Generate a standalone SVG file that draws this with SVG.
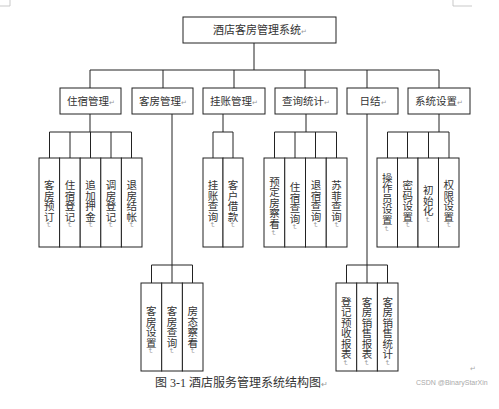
<svg xmlns="http://www.w3.org/2000/svg" width="499" height="409" viewBox="0 0 499 409">
<style>
.box{fill:#fff;stroke:#222;stroke-width:1}
.ln{fill:none;stroke:#222;stroke-width:1}
.t{font-family:"Noto Sans CJK SC","Liberation Serif",sans-serif;font-size:10.5px;fill:#333;text-anchor:middle}
.v{writing-mode:vertical-rl}
.p{font-size:7px;fill:#999}
.mark{fill:none;stroke:#bbb;stroke-width:0.8}
</style>
<rect width="499" height="409" fill="#fff"/>
<path class="mark" d="M10,0V6H0M453,0V6H472"/>
<g id="connectors">
<path class="ln" d="M254,43V70M90,70H439M90,70V88M163,70V88M234,70V88M305,70V88M367,70V88M439,70V88"/>
<path class="ln" d="M90,114V132M49.5,132H131.5M49.5,132V158M70,132V158M90.5,132V158M111,132V158M131.5,132V158"/>
<path class="ln" d="M172,114V265M151.5,265H192.5M151.5,265V283M172,265V283M192.5,265V283"/>
<path class="ln" d="M223,114V132M213,132H233M213,132V158M233,132V158"/>
<path class="ln" d="M306,114V132M274.5,132H336.5M274.5,132V158M295,132V158M315.5,132V158M336.5,132V158"/>
<path class="ln" d="M367,114V265M346.5,265H387.5M346.5,265V283M367,265V283M387.5,265V283"/>
<path class="ln" d="M439,114V132M387.5,132H449M387.5,132V158M407.5,132V158M428.5,132V158M449,132V158"/>
</g>
<g id="root"><rect class="box" x="183" y="17" width="153" height="26"/><text class="t" x="260" y="34" style="font-size:11px">酒店客房管理系统<tspan class="p">↵</tspan></text></g>
<g id="m1"><rect class="box" x="60" y="88" width="61" height="26"/><text class="t" x="91" y="105">住宿管理<tspan class="p">↵</tspan></text></g>
<g id="m2"><rect class="box" x="132" y="88" width="61" height="26"/><text class="t" x="163" y="105">客房管理<tspan class="p">↵</tspan></text></g>
<g id="m3"><rect class="box" x="203" y="88" width="62" height="26"/><text class="t" x="234" y="105">挂账管理<tspan class="p">↵</tspan></text></g>
<g id="m4"><rect class="box" x="275" y="88" width="62" height="26"/><text class="t" x="306" y="105">查询统计<tspan class="p">↵</tspan></text></g>
<g id="m5"><rect class="box" x="347" y="88" width="51" height="26"/><text class="t" x="373" y="105">日结<tspan class="p">↵</tspan></text></g>
<g id="m6"><rect class="box" x="408" y="88" width="62" height="26"/><text class="t" x="439" y="105">系统设置<tspan class="p">↵</tspan></text></g>

<g id="a1"><rect class="box" x="39" y="158" width="20.6" height="89"/><text class="t v" x="49.3" y="204">客房预订<tspan class="p">↵</tspan></text></g>
<g id="a2"><rect class="box" x="59.6" y="158" width="20.6" height="89"/><text class="t v" x="69.9" y="204">住宿登记<tspan class="p">↵</tspan></text></g>
<g id="a3"><rect class="box" x="80.2" y="158" width="20.6" height="89"/><text class="t v" x="90.5" y="204">追加押金<tspan class="p">↵</tspan></text></g>
<g id="a4"><rect class="box" x="100.8" y="158" width="20.6" height="89"/><text class="t v" x="111.1" y="204">调房登记<tspan class="p">↵</tspan></text></g>
<g id="a5"><rect class="box" x="121.4" y="158" width="20.6" height="89"/><text class="t v" x="131.7" y="204">退房结帐<tspan class="p">↵</tspan></text></g>

<g id="b1"><rect class="box" x="141" y="283" width="20.7" height="88"/><text class="t v" x="151.3" y="330">客房设置<tspan class="p">↵</tspan></text></g>
<g id="b2"><rect class="box" x="161.7" y="283" width="20.7" height="88"/><text class="t v" x="172" y="330">客房查询<tspan class="p">↵</tspan></text></g>
<g id="b3"><rect class="box" x="182.4" y="283" width="20.6" height="88"/><text class="t v" x="192.7" y="330">房态察看<tspan class="p">↵</tspan></text></g>

<g id="c1"><rect class="box" x="203" y="158" width="20" height="89"/><text class="t v" x="213" y="204">挂账查询<tspan class="p">↵</tspan></text></g>
<g id="c2"><rect class="box" x="223" y="158" width="20" height="89"/><text class="t v" x="233" y="204">客户借款<tspan class="p">↵</tspan></text></g>

<g id="d1"><rect class="box" x="264" y="158" width="20.75" height="89"/><text class="t v" x="274.4" y="206">预定房察看<tspan class="p">↵</tspan></text></g>
<g id="d2"><rect class="box" x="284.75" y="158" width="20.75" height="89"/><text class="t v" x="295.1" y="206">住宿查询<tspan class="p">↵</tspan></text></g>
<g id="d3"><rect class="box" x="305.5" y="158" width="20.75" height="89"/><text class="t v" x="315.9" y="204">退宿查询<tspan class="p">↵</tspan></text></g>
<g id="d4"><rect class="box" x="326.25" y="158" width="20.75" height="89"/><text class="t v" x="336.6" y="204">苏菲查询<tspan class="p">↵</tspan></text></g>

<g id="e1"><rect class="box" x="336" y="283" width="20.7" height="88"/><text class="t v" x="346.3" y="331">登记预收报表<tspan class="p">↵</tspan></text></g>
<g id="e2"><rect class="box" x="356.7" y="283" width="20.7" height="88"/><text class="t v" x="367" y="331">客房销售报表<tspan class="p">↵</tspan></text></g>
<g id="e3"><rect class="box" x="377.4" y="283" width="20.6" height="88"/><text class="t v" x="387.7" y="331">客房销售统计<tspan class="p">↵</tspan></text></g>

<g id="f1"><rect class="box" x="377" y="158" width="20.5" height="89"/><text class="t v" x="387.3" y="202">操作员设置<tspan class="p">↵</tspan></text></g>
<g id="f2"><rect class="box" x="397.5" y="158" width="20.5" height="89"/><text class="t v" x="407.8" y="204">密码设置<tspan class="p">↵</tspan></text></g>
<g id="f3"><rect class="box" x="418" y="158" width="20.5" height="89"/><text class="t v" x="428.3" y="204">初始化<tspan class="p">↵</tspan></text></g>
<g id="f4"><rect class="box" x="438.5" y="158" width="20.5" height="89"/><text class="t v" x="448.8" y="204">权限设置<tspan class="p">↵</tspan></text></g>

<text x="473" y="371" style="font-family:'Liberation Sans',sans-serif;font-size:7px;fill:#aaa" text-anchor="middle">↵</text>
<text x="155" y="387" style="font-family:'Liberation Serif','Noto Sans CJK SC',serif;font-size:12px;fill:#333">图 3-1 酒店服务管理系统结构图<tspan style="font-size:8px;fill:#999">↵</tspan></text>
<text x="416" y="385" style="font-family:'Liberation Sans',sans-serif;font-size:7px;fill:#aaa">CSDN @BinaryStarXin</text>
</svg>
